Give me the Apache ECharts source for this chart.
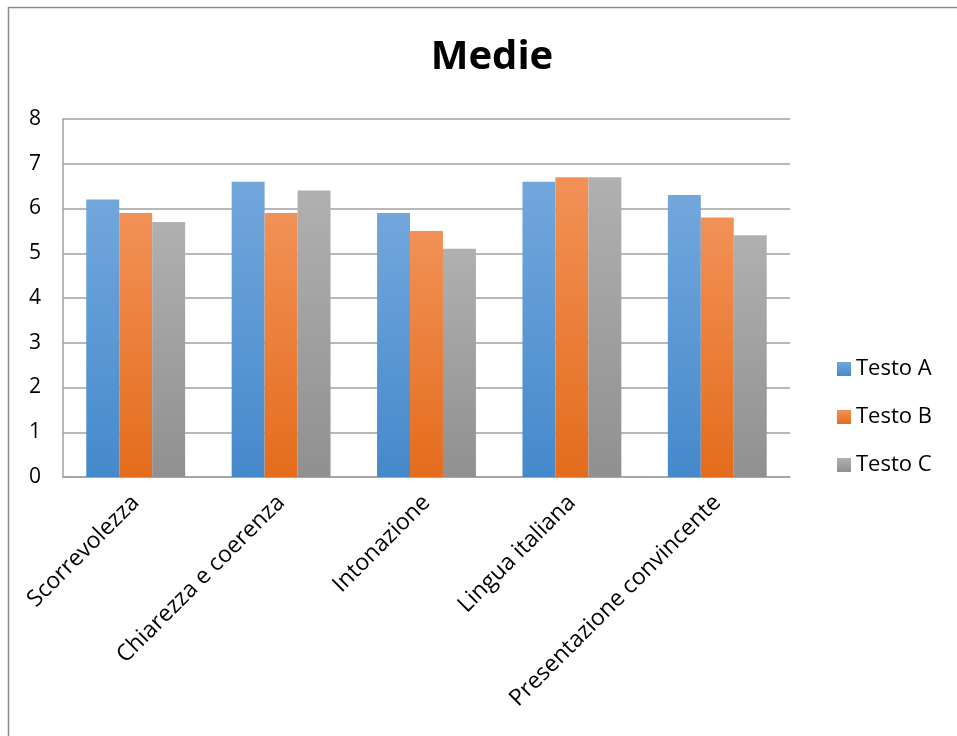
<!DOCTYPE html>
<html><head><meta charset="utf-8">
<script src="https://cdn.jsdelivr.net/npm/echarts@6/dist/echarts.min.js"></script>
<style>html,body{margin:0;padding:0;background:#fff}#c{width:957px;height:736px}</style>
</head><body><div id="c"></div>
<script>
const categories = ['Scorrevolezza','Chiarezza e coerenza','Intonazione','Lingua italiana','Presentazione convincente'];
const testoA = [6.2, 6.6, 5.9, 6.6, 6.3];
const testoB = [5.9, 5.9, 5.5, 6.7, 5.8];
const testoC = [5.7, 6.4, 5.1, 6.7, 5.4];
const yTicks = [0,1,2,3,4,5,6,7,8];

const FONT = '"Open Sans", "Noto Sans", sans-serif';
function grad(top, bottom){
  return new echarts.graphic.LinearGradient(0,0,0,1,[{offset:0,color:top},{offset:1,color:bottom}]);
}
const colA = grad('#72a7dc','#4589cc');
const colB = grad('#f29157','#e46c1c');
const colC = grad('#b0b0b0','#909090');

const chart = echarts.init(document.getElementById('c'));
chart.setOption({
  animation:false,
  backgroundColor:'#fff',
  title:{text:'Medie',left:487,top:33,textAlign:'center',textStyle:{fontFamily:FONT,fontSize:40,fontWeight:'bold',color:'#000'}},
  graphic:[{type:'rect',shape:{x:8.5,y:7.5,width:1000,height:1000},style:{fill:'none',stroke:'#8c8c8c',lineWidth:1.5},silent:true}],
  legend:{orient:'vertical',left:832,top:352,itemGap:24,itemWidth:14,itemHeight:14,icon:'rect',
    textStyle:{fontFamily:FONT,fontSize:22,lineHeight:24,color:'#000',padding:[0,0,0,0]},
    data:[{name:'Testo A',itemStyle:{color:colA}},{name:'Testo B',itemStyle:{color:colB}},{name:'Testo C',itemStyle:{color:colC}}]},
  grid:{left:63,right:167,top:119,bottom:259,containLabel:false},
  xAxis:{type:'category',data:categories,
    axisLine:{lineStyle:{color:'#a0a0a0',width:1.5}},axisTick:{show:false},
    axisLabel:{rotate:45,interval:0,fontFamily:FONT,fontSize:23,color:'#000',margin:22}},
  yAxis:{type:'value',min:0,max:8,interval:1,
    axisLine:{show:true,lineStyle:{color:'#a0a0a0',width:1.5}},axisTick:{show:false},
    splitLine:{lineStyle:{color:'#a0a0a0',width:1.5}},
    axisLabel:{fontFamily:FONT,fontSize:21,color:'#000',margin:22,formatter:v=>yTicks.includes(v)?String(v):''}},
  series:[
    {name:'Testo A',type:'bar',data:testoA,itemStyle:{color:colA},barGap:'0%',barCategoryGap:'32%'},
    {name:'Testo B',type:'bar',data:testoB,itemStyle:{color:colB},barGap:'0%',barCategoryGap:'32%'},
    {name:'Testo C',type:'bar',data:testoC,itemStyle:{color:colC},barGap:'0%',barCategoryGap:'32%'}
  ]
});
</script></body></html>
